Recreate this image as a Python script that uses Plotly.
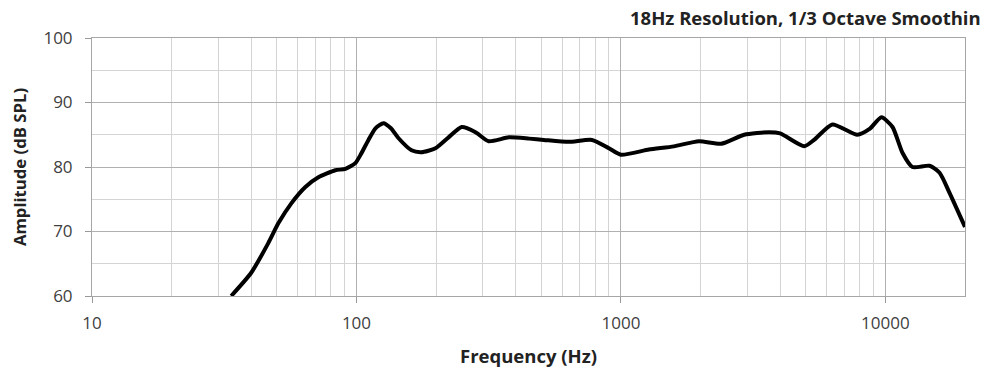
import plotly.graph_objects as go

freq_hz = [33.6, 40, 46.4, 50.7, 56.8, 64.1, 71.8, 83.2, 90.8, 99, 104, 111, 118, 126.5, 135, 144, 161.5, 176, 199, 223, 250, 282, 316, 377, 450, 511, 635, 777, 901, 1000, 1276, 1585, 1972, 2393, 2925, 3633, 4000, 4932, 5375, 6300, 7835, 8715, 9660, 10640, 11600, 12650, 14680, 16030, 17480, 20000]
spl_db = [60.0, 63.6, 68.2, 71.3, 74.4, 76.9, 78.4, 79.5, 79.7, 80.6, 82.0, 84.2, 86.0, 86.8, 86.0, 84.5, 82.6, 82.3, 82.9, 84.6, 86.2, 85.4, 84.0, 84.6, 84.4, 84.2, 83.9, 84.2, 82.9, 81.9, 82.7, 83.2, 84.0, 83.6, 85.0, 85.4, 85.2, 83.2, 84.2, 86.6, 85.0, 85.9, 87.7, 86.2, 82.2, 80.0, 80.2, 79.1, 76.0, 70.7]

x_major = [10, 100, 1000, 10000]
x_major_labels = ["10", "100", "1000", "10000"]
x_minor = [m * d for d in (10, 100, 1000) for m in range(2, 10)] + [20000]

font_family = "Open Sans, Liberation Sans, sans-serif"

fig = go.Figure()
fig.add_trace(go.Scatter(
    x=freq_hz, y=spl_db, mode="lines",
    line=dict(color="black", width=4, shape="spline", smoothing=0.6),
    hoverinfo="x+y", showlegend=False,
))

fig.update_layout(
    width=991, height=370,
    margin=dict(l=84, r=34, t=30, b=82),
    plot_bgcolor="white", paper_bgcolor="white",
    font=dict(family=font_family, size=17, color="#404040"),
    xaxis=dict(
        type="log", range=[1, 4.30103],
        tickmode="array", tickvals=x_major, ticktext=x_major_labels,
        showgrid=True, gridcolor="#b0b0b0", gridwidth=1,
        ticks="outside", ticklen=6, tickcolor="#999999",
        showline=True, linecolor="#a6a6a6", linewidth=1, mirror=True,
        minor=dict(tickmode="array", tickvals=x_minor, showgrid=True,
                   gridcolor="#d4d4d4", gridwidth=1, ticks=""),
        tickfont=dict(size=17, color="#404040"),
        ticklabelstandoff=6,
        title=dict(text="<b>Frequency (Hz)</b>", font=dict(size=18.5, color="#222222"), standoff=16),
        zeroline=False,
    ),
    yaxis=dict(
        range=[60, 100], tickmode="linear", tick0=60, dtick=10,
        showgrid=True, gridcolor="#b0b0b0", gridwidth=1,
        ticks="outside", ticklen=6, tickcolor="#999999",
        showline=True, linecolor="#a6a6a6", linewidth=1, mirror=True,
        minor=dict(dtick=5, showgrid=True, gridcolor="#d4d4d4", gridwidth=1, ticks=""),
        tickfont=dict(size=17, color="#404040"),
        ticklabelstandoff=9,
        title=dict(text="<b>Amplitude (dB SPL)</b>", font=dict(size=16.7, color="#222222"), standoff=12),
        zeroline=False,
    ),
    annotations=[dict(
        text="<b>18Hz Resolution, 1/3 Octave Smoothin</b>",
        xref="paper", yref="paper", x=1 + 18 / 873, y=1 + 21 / 258,
        xanchor="right", yanchor="middle", showarrow=False,
        font=dict(size=18.5, family=font_family, color="#222222"),
    )],
)

fig.write_html("out.html")
